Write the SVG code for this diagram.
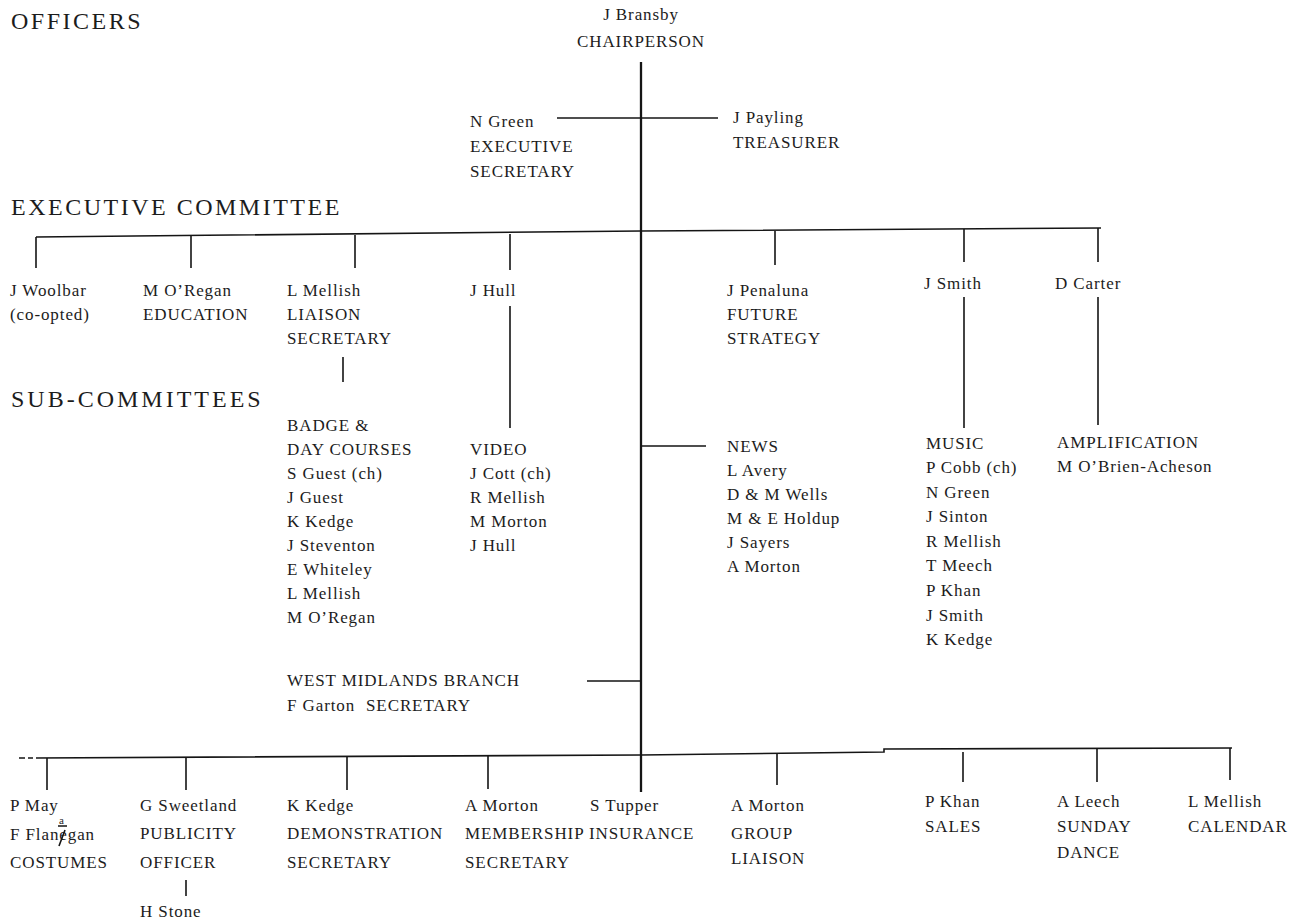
<svg xmlns="http://www.w3.org/2000/svg" width="1302" height="922" viewBox="0 0 1302 922">
<style>
text{font-family:"Liberation Serif","Times New Roman",serif;font-size:17px;letter-spacing:0.9px;fill:#1c1c1c}
.h{font-size:24px;letter-spacing:2.5px}
.m{text-anchor:middle}
.s{font-size:11px;letter-spacing:0}
.c{stroke:#151515;stroke-width:1.6;fill:none}
.main{stroke-width:2.3}
</style>
<rect width="1302" height="922" fill="#ffffff"/>
<g id="connectors" class="c">
<path class="c main" d="M641,62 V792"/>
<path class="c" d="M557,118 H718"/>
<path class="c" d="M36,237 L641,231 L1101,228"/>
<path class="c" d="M36,237 V268 M191,236 V268 M355,235 V268 M510,234 V270 M775,231 V265 M964,229 V262 M1098,228 V262"/>
<path class="c" d="M343,357 V382 M510,306 V428 M964,297 V428 M1098,297 V425"/>
<path class="c" d="M641,446 H706 M587,681 H641"/>
<path class="c" d="M19,758 H25 M28,758 H33"/>
<path class="c" d="M36,758 L641,755 L884,752 L884,749 L1232,748"/>
<path class="c" d="M47,758 V790 M186,757 V790 M347,756 V790 M488,756 V789 M777,754 V785 M963,752 V782 M1097,749 V782 M1230,748 V780"/>
<path class="c" d="M186,880 V896"/>
</g>
<g id="headings">
<text class="h" x="11" y="29">OFFICERS</text>
<text class="h" x="11" y="215">EXECUTIVE COMMITTEE</text>
<text class="h" x="11" y="407" style="letter-spacing:3px">SUB-COMMITTEES</text>
</g>
<g id="chair"><text class="m" x="641" y="20">J Bransby</text><text class="m" x="641" y="47">CHAIRPERSON</text></g>
<g id="exec-secretary"><text x="470" y="127">N Green</text><text x="470" y="152">EXECUTIVE</text><text x="470" y="177">SECRETARY</text></g>
<g id="treasurer"><text x="733" y="123">J Payling</text><text x="733" y="148">TREASURER</text></g>
<g id="woolbar"><text x="10" y="296">J Woolbar</text><text x="10" y="320">(co-opted)</text></g>
<g id="oregan"><text x="143" y="296">M O’Regan</text><text x="143" y="320">EDUCATION</text></g>
<g id="mellish-liaison"><text x="287" y="296">L Mellish</text><text x="287" y="320">LIAISON</text><text x="287" y="344">SECRETARY</text></g>
<g id="hull"><text x="470" y="296">J Hull</text></g>
<g id="penaluna"><text x="727" y="296">J Penaluna</text><text x="727" y="320">FUTURE</text><text x="727" y="344">STRATEGY</text></g>
<g id="smith"><text x="924" y="289">J Smith</text></g>
<g id="carter"><text x="1055" y="289">D Carter</text></g>
<g id="badge">
<text x="287" y="431">BADGE &amp;</text><text x="287" y="455">DAY COURSES</text><text x="287" y="479">S Guest (ch)</text><text x="287" y="503">J Guest</text><text x="287" y="527">K Kedge</text><text x="287" y="551">J Steventon</text><text x="287" y="575">E Whiteley</text><text x="287" y="599">L Mellish</text><text x="287" y="623">M O’Regan</text>
</g>
<g id="video">
<text x="470" y="455">VIDEO</text><text x="470" y="479">J Cott (ch)</text><text x="470" y="503">R Mellish</text><text x="470" y="527">M Morton</text><text x="470" y="551">J Hull</text>
</g>
<g id="news">
<text x="727" y="452">NEWS</text><text x="727" y="476">L Avery</text><text x="727" y="500">D &amp; M Wells</text><text x="727" y="524">M &amp; E Holdup</text><text x="727" y="548">J Sayers</text><text x="727" y="572">A Morton</text>
</g>
<g id="music">
<text x="926" y="449">MUSIC</text><text x="926" y="473">P Cobb (ch)</text><text x="926" y="498">N Green</text><text x="926" y="522">J Sinton</text><text x="926" y="547">R Mellish</text><text x="926" y="571">T Meech</text><text x="926" y="596">P Khan</text><text x="926" y="621">J Smith</text><text x="926" y="645">K Kedge</text>
</g>
<g id="amplification"><text x="1057" y="448">AMPLIFICATION</text><text x="1057" y="472">M O’Brien-Acheson</text></g>
<g id="west-midlands"><text x="287" y="686">WEST MIDLANDS BRANCH</text><text x="287" y="711">F Garton</text><text x="366" y="711">SECRETARY</text></g>
<g id="costumes">
<text x="10" y="811">P May</text><text x="10" y="840">F Flanegan</text><text x="10" y="868">COSTUMES</text>
<text class="s" x="59" y="824">a</text><path class="c" d="M58,826 H67 M65,830 L59,846" stroke-width="1"/>
</g>
<g id="publicity"><text x="140" y="811">G Sweetland</text><text x="140" y="839">PUBLICITY</text><text x="140" y="868">OFFICER</text><text x="140" y="917">H Stone</text></g>
<g id="demonstration"><text x="287" y="811">K Kedge</text><text x="287" y="839">DEMONSTRATION</text><text x="287" y="868">SECRETARY</text></g>
<g id="membership"><text x="465" y="811">A Morton</text><text x="465" y="839">MEMBERSHIP</text><text x="465" y="868">SECRETARY</text></g>
<g id="insurance"><text x="590" y="811">S Tupper</text><text x="589" y="839">INSURANCE</text></g>
<g id="group-liaison"><text x="731" y="811">A Morton</text><text x="731" y="839">GROUP</text><text x="731" y="864">LIAISON</text></g>
<g id="sales"><text x="925" y="807">P Khan</text><text x="925" y="832">SALES</text></g>
<g id="sunday-dance"><text x="1057" y="807">A Leech</text><text x="1057" y="832">SUNDAY</text><text x="1057" y="858">DANCE</text></g>
<g id="calendar"><text x="1188" y="807">L Mellish</text><text x="1188" y="832">CALENDAR</text></g>
</svg>
